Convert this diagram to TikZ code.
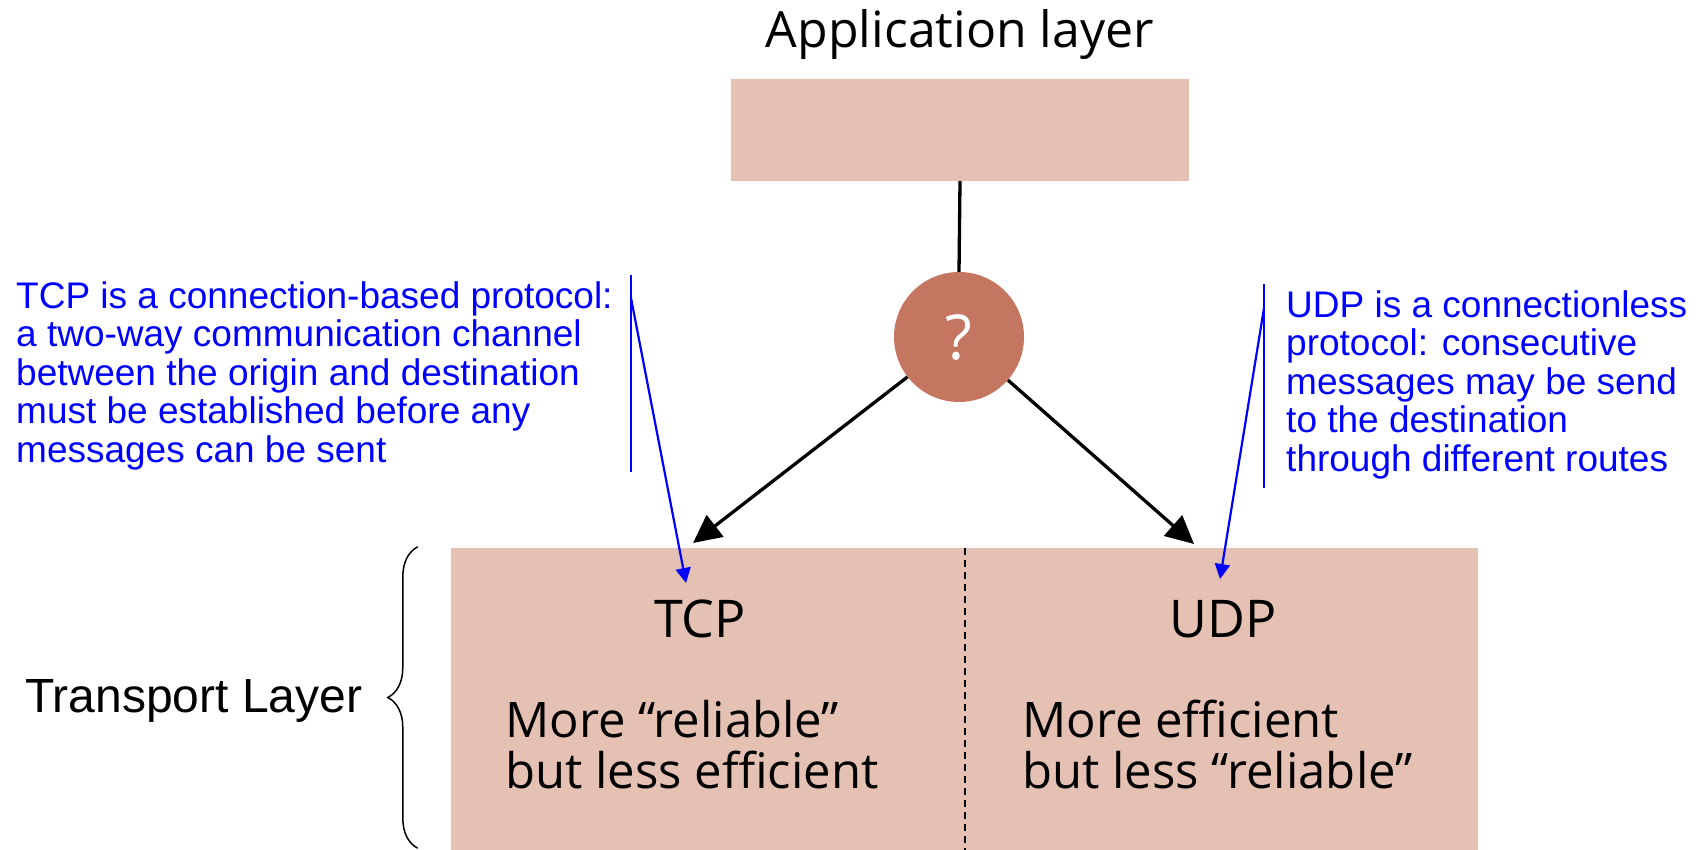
\documentclass[tikz,border=0pt]{standalone}
\usepackage{fontspec}
\usetikzlibrary{arrows.meta, decorations.pathreplacing, calc}
\newfontfamily\layerfont{Open Sans}
\newfontfamily\notefont{Liberation Sans}
\definecolor{layerpink}{RGB}{229,193,179}
\definecolor{choicered}{RGB}{197,118,96}
\tikzset{
  layerbox/.style = {rectangle, fill = layerpink, inner sep = 0pt},
  bigarrow/.style = {line width = 3.3pt, -{Triangle[length=28pt, width=27pt]}},
  notearrow/.style = {blue, line width = 2.2pt, -{Triangle[length=15pt, width=15pt]}},
  notetext/.style = {anchor = base west, inner sep = 0pt, text = blue, align = left,
    font = \notefont\fontsize{37}{38.5}\selectfont}
}

\begin{document}
\begin{tikzpicture}[x=1pt, y=-1pt]
    \useasboundingbox (0,0) rectangle (1704,850);
    \node[
    anchor = base,
    inner sep = 0pt,
    font = \layerfont\fontsize{50}{55}\selectfont
    ] (applabel) at (960,48){Application layer};
    \node[
    layerbox,
    minimum width = 458pt,
    minimum height = 102pt
    ] (app) at (960,130){};
    \node[
    circle,
    fill = choicered,
    text = white,
    inner sep = 0pt,
    minimum size = 130pt,
    font = \layerfont\fontsize{62}{66}\selectfont
    ] (q) at (959,337){?};
    \draw[line width = 3.3pt] (app.south) -- (q.north);
    \node[
    layerbox,
    minimum width = 1027pt,
    minimum height = 302pt
    ] (transport) at (964.5,699){};
    \draw[line width = 2pt, dash pattern = on 7pt off 5pt] (transport.north) -- (transport.south);
    \coordinate (tcptip) at (693,543);
    \coordinate (udptip) at (1194,544);
    \draw[bigarrow] (q) -- (tcptip);
    \draw[bigarrow] (q) -- (udptip);
    \node[
    anchor = base,
    inner sep = 0pt,
    font = \layerfont\fontsize{52}{58}\selectfont
    ] (tcp) at (700,637){TCP};
    \node[
    anchor = base,
    inner sep = 0pt,
    font = \layerfont\fontsize{52}{58}\selectfont
    ] (udp) at (1223,637){UDP};
    \node[
    anchor = base west,
    inner sep = 0pt,
    align = left,
    font = \layerfont\fontsize{49}{51}\selectfont
    ] (tcptext) at (505,788){More “reliable”\\but less efficient};
    \node[
    anchor = base west,
    inner sep = 0pt,
    align = left,
    font = \layerfont\fontsize{49}{51}\selectfont
    ] (udptext) at (1022,788){More efficient\\but less “reliable”};
    \draw[line width = 1.5pt, decorate, decoration = {brace, amplitude = 30pt}]
      ($(transport.south west)+(-33,-2)$) -- ($(transport.north west)+(-33,-1)$);
    \node[
    anchor = base west,
    inner sep = 0pt,
    font = \notefont\fontsize{48}{55}\selectfont
    ] (translabel) at (25,712){Transport Layer};
    \node[notetext] (tcpnote) at (16,462){TCP is a connection-based protocol:\\a two-way communication channel\\between the origin and destination\\must be established before any\\messages can be sent};
    \node[notetext] (udpnote) at (1286,471){UDP is a connectionless\\protocol: consecutive\\messages may be send\\to the destination\\through different routes};
    \coordinate (tcpbartop) at (631,275);
    \coordinate (tcpbarbot) at (631,472);
    \coordinate (tcpfrom) at (631,298);
    \coordinate (tcpto) at (686,583);
    \coordinate (udpbartop) at (1264,284);
    \coordinate (udpbarbot) at (1264,488);
    \coordinate (udpfrom) at (1264,308);
    \coordinate (udpto) at (1220,579);
    \draw[blue, line width = 2.2pt] (tcpbartop) -- (tcpbarbot);
    \draw[blue, line width = 2.2pt] (udpbartop) -- (udpbarbot);
    \draw[notearrow] (tcpfrom) -- (tcpto);
    \draw[notearrow] (udpfrom) -- (udpto);
  \end{tikzpicture}
\end{document}
